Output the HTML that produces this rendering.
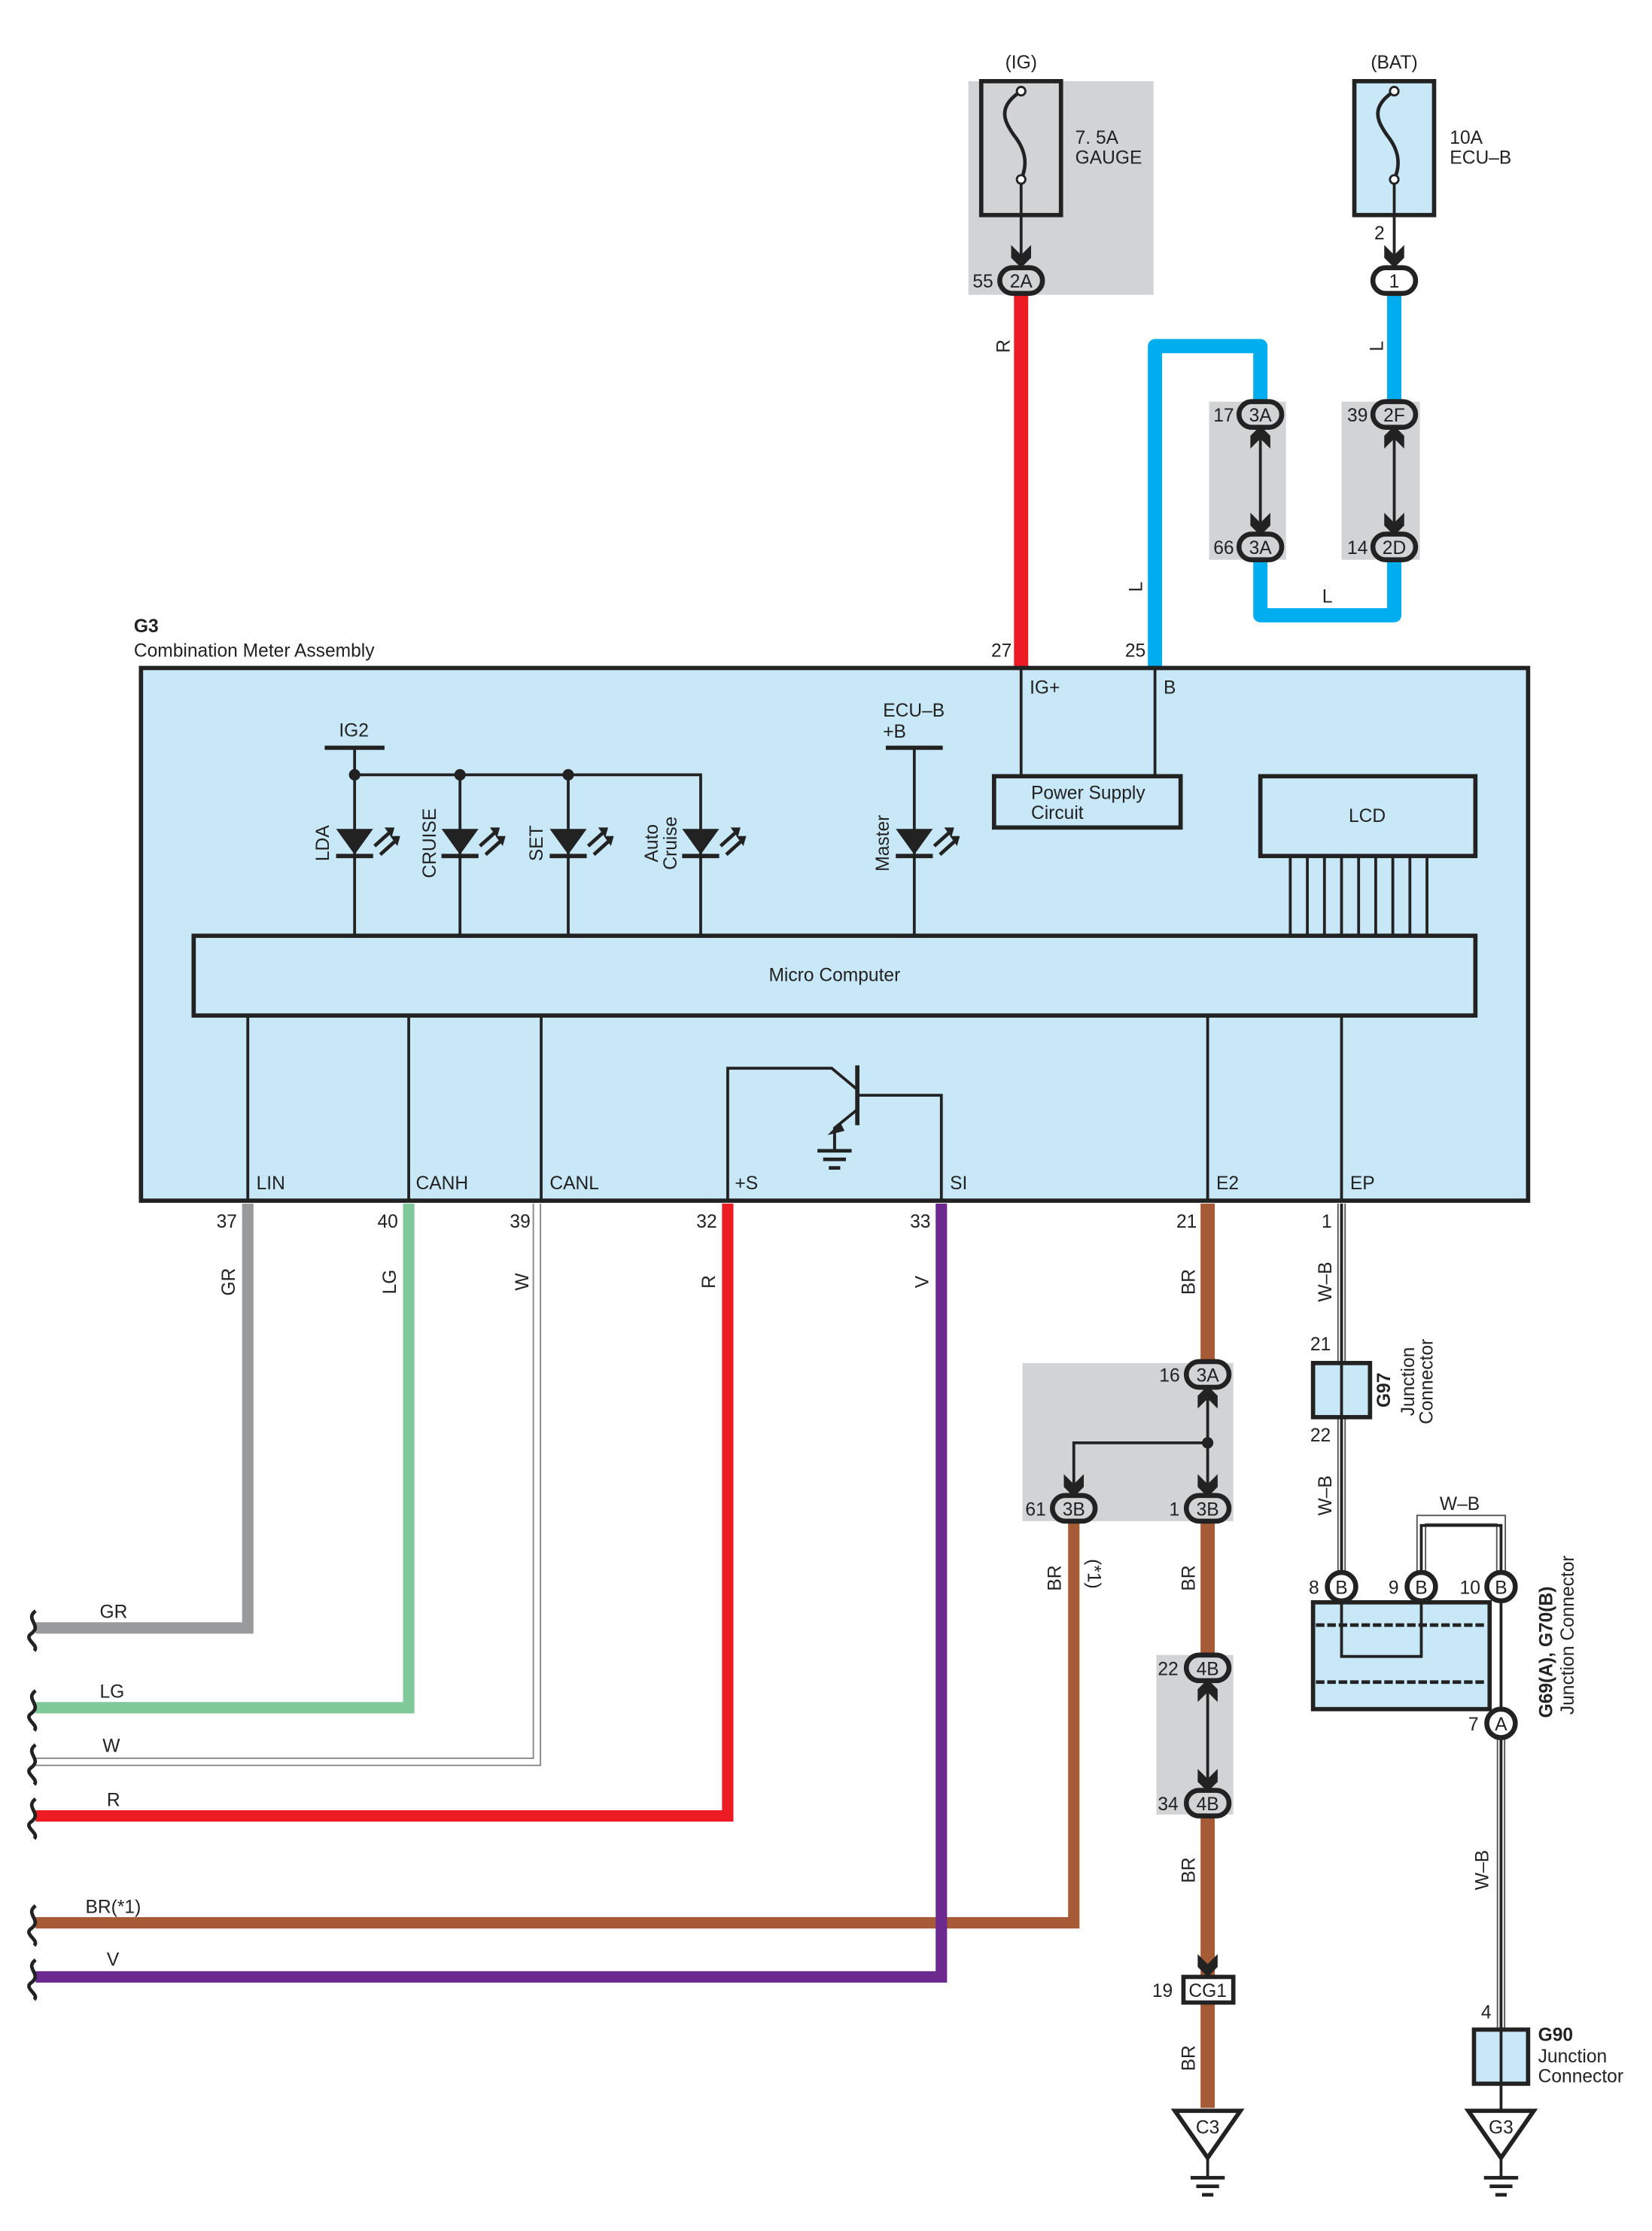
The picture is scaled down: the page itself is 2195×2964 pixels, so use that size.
<!DOCTYPE html>
<html><head><meta charset="utf-8"><style>
html,body{margin:0;padding:0;background:#fff}
svg{display:block}
text{font-family:"Liberation Sans",sans-serif;font-size:13px;fill:#222}
</style></head><body>
<svg width="2195" height="2964" viewBox="0 0 1160 1566.4" preserveAspectRatio="none" xmlns="http://www.w3.org/2000/svg">
<defs>
<g id="cd"><path d="M-7 -14 L0 -7 L7 -14 L7 -5 L0 2 L-7 -5 Z" fill="#222"/></g>
<g id="cu"><path d="M-7 14 L0 7 L7 14 L7 5 L0 -2 L-7 5 Z" fill="#222"/></g>
<g id="led"><path d="M-13 -18 L13 -18 L0 0 Z" fill="#222"/><line x1="-13" y1="1" x2="13" y2="1" stroke="#222" stroke-width="3"/>
<path d="M14 -6 L24 -15 M18 0 L28 -9" stroke="#222" stroke-width="2.5"/><path d="M21 -19 L28 -19 L26 -12 Z M25 -13 L32 -13 L30 -6 Z" fill="#222"/></g>
<g id="gnd"><line x1="0" y1="0" x2="0" y2="14" stroke="#222" stroke-width="2"/><line x1="-12" y1="14" x2="12" y2="14" stroke="#222" stroke-width="2.5"/><line x1="-8" y1="20" x2="8" y2="20" stroke="#222" stroke-width="2.5"/><line x1="-4" y1="26" x2="4" y2="26" stroke="#222" stroke-width="2.5"/></g>
<g id="brk"><path d="M3 -12 C-5 -6 8 -2 0 4 C-6 8 6 12 2 16" fill="none" stroke="#222" stroke-width="2.5"/></g>
</defs>

<!-- top fuses -->
<rect x="680" y="57" width="130" height="150" fill="#d2d3d5"/>
<rect x="689" y="57" width="56" height="94" fill="none" stroke="#222" stroke-width="3"/>
<path d="M717 64 C700 75 705 85 712 95 C720 105 722 115 717 126" fill="none" stroke="#222" stroke-width="2.5"/>
<circle cx="717" cy="64" r="3" fill="#fff" stroke="#222" stroke-width="1.5"/><circle cx="717" cy="126" r="3" fill="#fff" stroke="#222" stroke-width="1.5"/>
<line x1="717" y1="129" x2="717" y2="185" stroke="#222" stroke-width="2"/><use href="#cd" x="717" y="186"/>
<text x="717" y="48" text-anchor="middle">(IG)</text>
<text x="755" y="101">7. 5A</text><text x="755" y="115">GAUGE</text>

<rect x="951" y="57" width="56" height="94" fill="#c8e8f8" stroke="#222" stroke-width="3"/>
<path d="M979 64 C962 75 967 85 974 95 C982 105 984 115 979 126" fill="none" stroke="#222" stroke-width="2.5"/>
<circle cx="979" cy="64" r="3" fill="#fff" stroke="#222" stroke-width="1.5"/><circle cx="979" cy="126" r="3" fill="#fff" stroke="#222" stroke-width="1.5"/>
<line x1="979" y1="129" x2="979" y2="185" stroke="#222" stroke-width="2"/><use href="#cd" x="979" y="186"/>
<text x="979" y="48" text-anchor="middle">(BAT)</text>
<text x="1018" y="101">10A</text><text x="1018" y="115">ECU–B</text>
<text x="965" y="168">2</text>

<!-- red IG wire -->
<line x1="717" y1="205" x2="717" y2="468" stroke="#ed1c24" stroke-width="10"/>
<text transform="translate(709,243) rotate(-90)" text-anchor="middle">R</text>

<!-- blue wires -->
<rect x="849" y="282" width="54" height="111" fill="#d2d3d5"/>
<rect x="942" y="282" width="55" height="111" fill="#d2d3d5"/>
<path d="M811 468 L811 243 L885 243 L885 291 M885 384 L885 432 L979 432 L979 384 M979 205 L979 291" fill="none" stroke="#00aeef" stroke-width="10" stroke-linejoin="round"/>
<line x1="885" y1="300" x2="885" y2="375" stroke="#222" stroke-width="2"/>
<line x1="979" y1="300" x2="979" y2="375" stroke="#222" stroke-width="2"/>
<use href="#cu" x="885" y="301"/><use href="#cd" x="885" y="374"/>
<use href="#cu" x="979" y="301"/><use href="#cd" x="979" y="374"/>
<text transform="translate(971,243) rotate(-90)" text-anchor="middle">L</text>
<text transform="translate(802,412) rotate(-90)" text-anchor="middle">L</text>
<text x="932" y="423" text-anchor="middle">L</text>

<!-- connectors top -->
<rect x="702" y="188" width="30" height="18" rx="9" fill="#d2d3d5" stroke="#222" stroke-width="3.5"/><text x="717" y="202" text-anchor="middle">2A</text><text x="683" y="202">55</text>
<rect x="964" y="188" width="30" height="18" rx="9" fill="#fff" stroke="#222" stroke-width="3.5"/><text x="979" y="202" text-anchor="middle">1</text>
<rect x="870" y="282" width="30" height="18" rx="9" fill="#d2d3d5" stroke="#222" stroke-width="3.5"/><text x="885" y="296" text-anchor="middle">3A</text><text x="852" y="296">17</text>
<rect x="870" y="375" width="30" height="18" rx="9" fill="#d2d3d5" stroke="#222" stroke-width="3.5"/><text x="885" y="389" text-anchor="middle">3A</text><text x="852" y="389">66</text>
<rect x="964" y="282" width="30" height="18" rx="9" fill="#d2d3d5" stroke="#222" stroke-width="3.5"/><text x="979" y="296" text-anchor="middle">2F</text><text x="946" y="296">39</text>
<rect x="964" y="375" width="30" height="18" rx="9" fill="#d2d3d5" stroke="#222" stroke-width="3.5"/><text x="979" y="389" text-anchor="middle">2D</text><text x="946" y="389">14</text>

<!-- main box -->
<text x="94" y="444" font-weight="bold">G3</text>
<text x="94" y="461">Combination Meter Assembly</text>
<text x="696" y="461">27</text><text x="790" y="461">25</text>
<rect x="99" y="469" width="974" height="374" fill="#c8e8f8" stroke="#222" stroke-width="3"/>
<line x1="717" y1="469" x2="717" y2="545" stroke="#222" stroke-width="2"/>
<line x1="811" y1="469" x2="811" y2="545" stroke="#222" stroke-width="2"/>
<text x="723" y="487">IG+</text><text x="817" y="487">B</text>
<rect x="698" y="545" width="131" height="36" fill="none" stroke="#222" stroke-width="3"/>
<text x="724" y="561">Power Supply</text><text x="724" y="575">Circuit</text>
<rect x="885" y="545" width="151" height="56" fill="none" stroke="#222" stroke-width="3"/>
<text x="960" y="577" text-anchor="middle">LCD</text>
<g stroke="#222" stroke-width="2">
<line x1="906" y1="601" x2="906" y2="657"/><line x1="918" y1="601" x2="918" y2="657"/><line x1="930" y1="601" x2="930" y2="657"/><line x1="942" y1="601" x2="942" y2="657"/><line x1="954" y1="601" x2="954" y2="657"/><line x1="966" y1="601" x2="966" y2="657"/><line x1="978" y1="601" x2="978" y2="657"/><line x1="990" y1="601" x2="990" y2="657"/><line x1="1002" y1="601" x2="1002" y2="657"/>
</g>
<rect x="136" y="657" width="900" height="56" fill="none" stroke="#222" stroke-width="3"/>
<text x="586" y="689" text-anchor="middle">Micro Computer</text>

<!-- LEDs -->
<g stroke="#222" stroke-width="2" fill="none">
<line x1="228" y1="525" x2="270" y2="525" stroke-width="3"/>
<line x1="249" y1="525" x2="249" y2="657"/>
<path d="M249 544 L492 544 L492 657"/>
<line x1="323" y1="544" x2="323" y2="657"/>
<line x1="399" y1="544" x2="399" y2="657"/>
<line x1="622" y1="525" x2="662" y2="525" stroke-width="3"/>
<line x1="642" y1="525" x2="642" y2="657"/>
</g>
<circle cx="249" cy="544" r="4" fill="#222"/><circle cx="323" cy="544" r="4" fill="#222"/><circle cx="399" cy="544" r="4" fill="#222"/>
<use href="#led" x="249" y="600"/><use href="#led" x="323" y="600"/><use href="#led" x="399" y="600"/><use href="#led" x="492" y="600"/><use href="#led" x="642" y="600"/>
<text x="238" y="517">IG2</text>
<text x="620" y="503">ECU–B</text><text x="620" y="518">+B</text>
<text transform="translate(231,592) rotate(-90)" text-anchor="middle">LDA</text>
<text transform="translate(306,592) rotate(-90)" text-anchor="middle">CRUISE</text>
<text transform="translate(381,592) rotate(-90)" text-anchor="middle">SET</text>
<text transform="translate(462,592) rotate(-90)" text-anchor="middle">Auto</text>
<text transform="translate(475,592) rotate(-90)" text-anchor="middle">Cruise</text>
<text transform="translate(624,592) rotate(-90)" text-anchor="middle">Master</text>

<!-- lower internal lines -->
<g stroke="#222" stroke-width="2" fill="none">
<line x1="174" y1="713" x2="174" y2="843"/><line x1="287" y1="713" x2="287" y2="843"/><line x1="380" y1="713" x2="380" y2="843"/>
<line x1="848" y1="713" x2="848" y2="843"/><line x1="942" y1="713" x2="942" y2="843"/>
<path d="M511 843 L511 750 L584 750 L602 765"/>
<path d="M661 843 L661 769 L602 769"/>
<line x1="602" y1="748" x2="602" y2="790" stroke-width="3"/>
<path d="M602 779 L586 792 L586 808"/>
</g>
<path d="M590 788 L581 797 L593 794 Z" fill="#222"/>
<use href="#gnd" x="586" y="794"/>
<text x="180" y="835">LIN</text><text x="292" y="835">CANH</text><text x="386" y="835">CANL</text>
<text x="516" y="835">+S</text><text x="667" y="835">SI</text><text x="854" y="835">E2</text><text x="948" y="835">EP</text>

<!-- pin numbers -->
<text x="152" y="862">37</text><text x="265" y="862">40</text><text x="358" y="862">39</text><text x="489" y="862">32</text><text x="639" y="862">33</text><text x="826" y="862">21</text><text x="928" y="862">1</text>

<!-- bottom-left wires -->
<path d="M174 845 L174 1143 L25 1143" fill="none" stroke="#999a9c" stroke-width="8"/>
<path d="M287 845 L287 1199 L25 1199" fill="none" stroke="#80c99b" stroke-width="8"/>
<path d="M377 845 L377 1237 L25 1237" fill="none" stroke="#888" stroke-width="6"/>
<path d="M377 845 L377 1237 L25 1237" fill="none" stroke="#fff" stroke-width="4"/>
<path d="M511 845 L511 1275 L25 1275" fill="none" stroke="#ed1c24" stroke-width="8"/>
<path d="M754 1067 L754 1350 L25 1350" fill="none" stroke="#a65a35" stroke-width="8"/>
<path d="M661 845 L661 1388 L25 1388" fill="none" stroke="#6d2a8e" stroke-width="8"/>
<use href="#brk" x="22" y="1143"/><use href="#brk" x="22" y="1199"/><use href="#brk" x="22" y="1237"/><use href="#brk" x="22" y="1275"/><use href="#brk" x="22" y="1350"/><use href="#brk" x="22" y="1388"/>
<text x="70" y="1136">GR</text><text x="70" y="1192">LG</text><text x="72" y="1230">W</text><text x="75" y="1268">R</text><text x="60" y="1343">BR(*1)</text><text x="75" y="1380">V</text>
<text transform="translate(165,900) rotate(-90)" text-anchor="middle">GR</text>
<text transform="translate(278,900) rotate(-90)" text-anchor="middle">LG</text>
<text transform="translate(371,900) rotate(-90)" text-anchor="middle">W</text>
<text transform="translate(502,900) rotate(-90)" text-anchor="middle">R</text>
<text transform="translate(652,900) rotate(-90)" text-anchor="middle">V</text>

<!-- brown main -->
<rect x="718" y="957" width="148" height="111" fill="#d2d3d5"/>
<rect x="812" y="1162" width="54" height="112" fill="#d2d3d5"/>
<line x1="848" y1="845" x2="848" y2="965" stroke="#a65a35" stroke-width="10"/>
<line x1="848" y1="1059" x2="848" y2="1171" stroke="#a65a35" stroke-width="10"/>
<line x1="848" y1="1266" x2="848" y2="1480" stroke="#a65a35" stroke-width="10"/>
<g stroke="#222" stroke-width="2" fill="none">
<line x1="848" y1="974" x2="848" y2="1050"/><path d="M848 1013 L754 1013 L754 1050"/>
<line x1="848" y1="1180" x2="848" y2="1257"/>
</g>
<circle cx="848" cy="1013" r="4" fill="#222"/>
<use href="#cu" x="848" y="975"/><use href="#cd" x="848" y="1049"/><use href="#cd" x="754" y="1049"/>
<use href="#cu" x="848" y="1181"/><use href="#cd" x="848" y="1256"/><use href="#cd" x="848" y="1386"/>
<rect x="833" y="956" width="30" height="18" rx="9" fill="#d2d3d5" stroke="#222" stroke-width="3.5"/><text x="848" y="970" text-anchor="middle">3A</text><text x="814" y="970">16</text>
<rect x="739" y="1050" width="30" height="18" rx="9" fill="#d2d3d5" stroke="#222" stroke-width="3.5"/><text x="754" y="1064" text-anchor="middle">3B</text><text x="720" y="1064">61</text>
<rect x="833" y="1050" width="30" height="18" rx="9" fill="#d2d3d5" stroke="#222" stroke-width="3.5"/><text x="848" y="1064" text-anchor="middle">3B</text><text x="821" y="1064">1</text>
<rect x="833" y="1162" width="30" height="18" rx="9" fill="#d2d3d5" stroke="#222" stroke-width="3.5"/><text x="848" y="1176" text-anchor="middle">4B</text><text x="813" y="1176">22</text>
<rect x="833" y="1257" width="30" height="18" rx="9" fill="#d2d3d5" stroke="#222" stroke-width="3.5"/><text x="848" y="1271" text-anchor="middle">4B</text><text x="813" y="1271">34</text>
<rect x="831" y="1388" width="35" height="18" fill="#fff" stroke="#222" stroke-width="3"/><text x="848" y="1402" text-anchor="middle">CG1</text><text x="809" y="1402">19</text>
<path d="M825 1482 L871 1482 L848 1515 Z" fill="#fff" stroke="#222" stroke-width="3"/><text x="848" y="1498" text-anchor="middle">C3</text>
<use href="#gnd" x="848" y="1515"/>
<text transform="translate(839,900) rotate(-90)" text-anchor="middle">BR</text>
<text transform="translate(839,1108) rotate(-90)" text-anchor="middle">BR</text>
<text transform="translate(745,1108) rotate(-90)" text-anchor="middle">BR</text>
<text transform="translate(764,1105) rotate(90)" text-anchor="middle">(*1)</text>
<text transform="translate(839,1313) rotate(-90)" text-anchor="middle">BR</text>
<text transform="translate(839,1445) rotate(-90)" text-anchor="middle">BR</text>

<!-- W-B ground -->
<g fill="none">
<path d="M942 845 L942 1105" stroke="#555" stroke-width="6"/><path d="M942 845 L942 1105" stroke="#fff" stroke-width="4"/><path d="M942 845 L942 1105" stroke="#222" stroke-width="2"/>
<path d="M1054 1220 L1054 1425" stroke="#555" stroke-width="6"/><path d="M1054 1220 L1054 1425" stroke="#fff" stroke-width="4"/><path d="M1054 1220 L1054 1425" stroke="#222" stroke-width="2"/>
<path d="M998 1105 L998 1067 L1054 1067 L1054 1105" stroke="#555" stroke-width="7"/><path d="M998 1105 L998 1067 L1054 1067 L1054 1105" stroke="#fff" stroke-width="5"/><path d="M998 1105 L998 1071 L1054 1071 L1054 1105" stroke="#222" stroke-width="2"/>
</g>
<rect x="922" y="957" width="40" height="38" fill="#c8e8f8" stroke="#222" stroke-width="3"/>
<line x1="942" y1="957" x2="942" y2="995" stroke="#222" stroke-width="2"/>
<text x="920" y="948">21</text><text x="920" y="1012">22</text>
<text transform="translate(935,900) rotate(-90)" text-anchor="middle">W–B</text>
<text transform="translate(935,1050) rotate(-90)" text-anchor="middle">W–B</text>
<text transform="translate(976,976) rotate(-90)" text-anchor="middle" font-weight="bold">G97</text>
<text transform="translate(993,970) rotate(-90)" text-anchor="middle">Junction</text>
<text transform="translate(1006,970) rotate(-90)" text-anchor="middle">Connector</text>

<rect x="922" y="1125" width="124" height="75" fill="#c8e8f8" stroke="#222" stroke-width="3"/>
<line x1="924" y1="1141" x2="1044" y2="1141" stroke="#222" stroke-width="2.5" stroke-dasharray="6,2"/>
<line x1="924" y1="1181" x2="1044" y2="1181" stroke="#222" stroke-width="2.5" stroke-dasharray="6,2"/>
<path d="M942 1114 L942 1163 L998 1163 L998 1114 M1054 1114 L1054 1210" fill="none" stroke="#222" stroke-width="2"/>
<circle cx="942" cy="1114" r="10" fill="#fff" stroke="#222" stroke-width="3.5"/><text x="942" y="1119" text-anchor="middle">B</text>
<circle cx="998" cy="1114" r="10" fill="#fff" stroke="#222" stroke-width="3.5"/><text x="998" y="1119" text-anchor="middle">B</text>
<circle cx="1054" cy="1114" r="10" fill="#fff" stroke="#222" stroke-width="3.5"/><text x="1054" y="1119" text-anchor="middle">B</text>
<circle cx="1054" cy="1210" r="10" fill="#fff" stroke="#222" stroke-width="3.5"/><text x="1054" y="1215" text-anchor="middle">A</text>
<text x="919" y="1119">8</text><text x="975" y="1119">9</text><text x="1025" y="1119">10</text><text x="1031" y="1215">7</text>
<text x="1025" y="1060" text-anchor="middle">W–B</text>
<text transform="translate(1090,1160) rotate(-90)" text-anchor="middle" font-weight="bold">G69(A), G70(B)</text>
<text transform="translate(1105,1148) rotate(-90)" text-anchor="middle">Junction Connector</text>
<text transform="translate(1045,1313) rotate(-90)" text-anchor="middle">W–B</text>

<rect x="1035" y="1425" width="38" height="38" fill="#c8e8f8" stroke="#222" stroke-width="3"/>
<line x1="1054" y1="1425" x2="1054" y2="1482" stroke="#222" stroke-width="2"/>
<text x="1040" y="1417">4</text>
<text x="1080" y="1433" font-weight="bold">G90</text><text x="1080" y="1448">Junction</text><text x="1080" y="1462">Connector</text>
<path d="M1031 1482 L1077 1482 L1054 1515 Z" fill="#fff" stroke="#222" stroke-width="3"/><text x="1054" y="1498" text-anchor="middle">G3</text>
<use href="#gnd" x="1054" y="1515"/>
</svg>
</body></html>
